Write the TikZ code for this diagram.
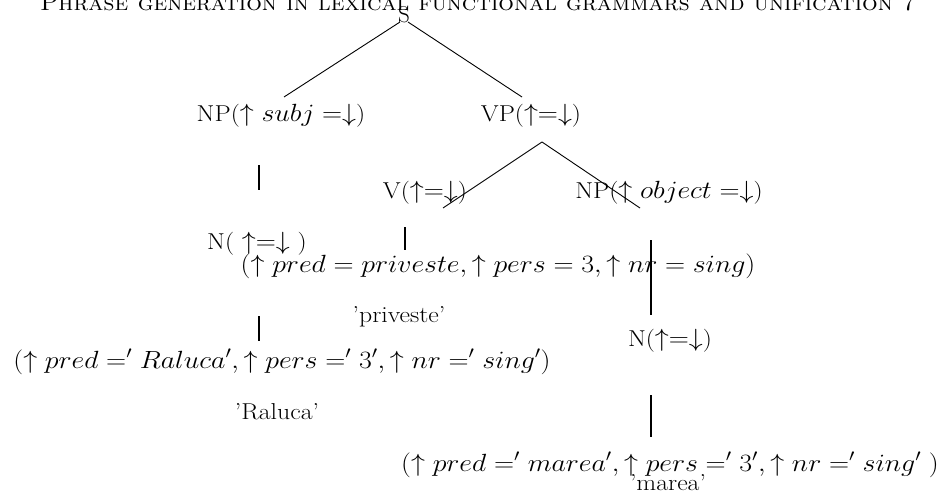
\documentclass[tikz,border=0pt]{standalone}
\usepackage{graphicx}
\newcommand{\xs}[1]{\scalebox{1.12}[1]{#1}}
\newcommand{\hs}[1]{\scalebox{1.07}[1]{#1}}
\begin{document}
\begin{tikzpicture}[x=1pt,y=-1pt,
  lbl/.style={inner sep=0pt, anchor=base, font=\fontsize{23}{28}\selectfont},
  hdr/.style={inner sep=0pt, anchor=base west, font=\fontsize{23}{28}\selectfont\scshape},
  diag/.style={line width=0.9pt},
  bar/.style={line width=1.8pt}]
\useasboundingbox (0,0) rectangle (945,501);
\clip (0,0) rectangle (945,501);
% running head
\node[hdr] (head) at (40,10) {\hs{Phrase generation in lexical functional grammars and unification 7}};
% nodes
\node[lbl] (S) at (404,22) {S};
\node[lbl] (NPs) at (281,121) {\xs{NP($\uparrow subj =\downarrow$)}};
\node[lbl] (VP) at (531,121) {\xs{VP($\uparrow=\downarrow$)}};
\node[lbl] (V) at (425,198) {\xs{V($\uparrow=\downarrow$)}};
\node[lbl] (NPo) at (669,198) {\xs{NP($\uparrow object =\downarrow$)}};
\node[lbl] (Nl) at (257,249) {\xs{N( $\uparrow=\downarrow$ )}};
\node[lbl] (fv) at (498,272) {\xs{$(\uparrow pred = priveste, \uparrow pers = 3, \uparrow nr = sing)$}};
\node[lbl] (wv) at (399,322) {\xs{'priveste'}};
\node[lbl] (Nr) at (670,346) {\xs{N($\uparrow=\downarrow$)}};
\node[lbl] (fr) at (282,368) {\xs{$(\uparrow pred =' Raluca', \uparrow pers =' 3', \uparrow nr =' sing')$}};
\node[lbl] (wr) at (277,419) {\xs{'Raluca'}};
\node[lbl] (fm) at (670,471) {\xs{$(\uparrow pred =' marea', \uparrow pers =' 3', \uparrow nr =' sing'\ )$}};
\node[lbl] (wm) at (668,490) {\xs{'marea'}};
% connector end points
\coordinate (s1) at (400,22);
\coordinate (s2) at (408,22);
\coordinate (npt) at (284,97);
\coordinate (vpt) at (522,97);
\coordinate (vpb) at (542,142);
\coordinate (vt) at (443,208);
\coordinate (npot) at (640,208);
\coordinate (b1a) at (259,165); \coordinate (b1b) at (259,190);
\coordinate (b2a) at (259,316); \coordinate (b2b) at (259,341);
\coordinate (b3a) at (405,227); \coordinate (b3b) at (405,250);
\coordinate (b4a) at (651,240); \coordinate (b4b) at (651,315);
\coordinate (b5a) at (651,395); \coordinate (b5b) at (651,437);
% connectors
\draw[diag] (s1) -- (npt);
\draw[diag] (s2) -- (vpt);
\draw[diag] (vpb) -- (vt);
\draw[diag] (vpb) -- (npot);
\draw[bar] (b1a) -- (b1b);
\draw[bar] (b2a) -- (b2b);
\draw[bar] (b3a) -- (b3b);
\draw[bar] (b4a) -- (b4b);
\draw[bar] (b5a) -- (b5b);
\end{tikzpicture}
\end{document}
